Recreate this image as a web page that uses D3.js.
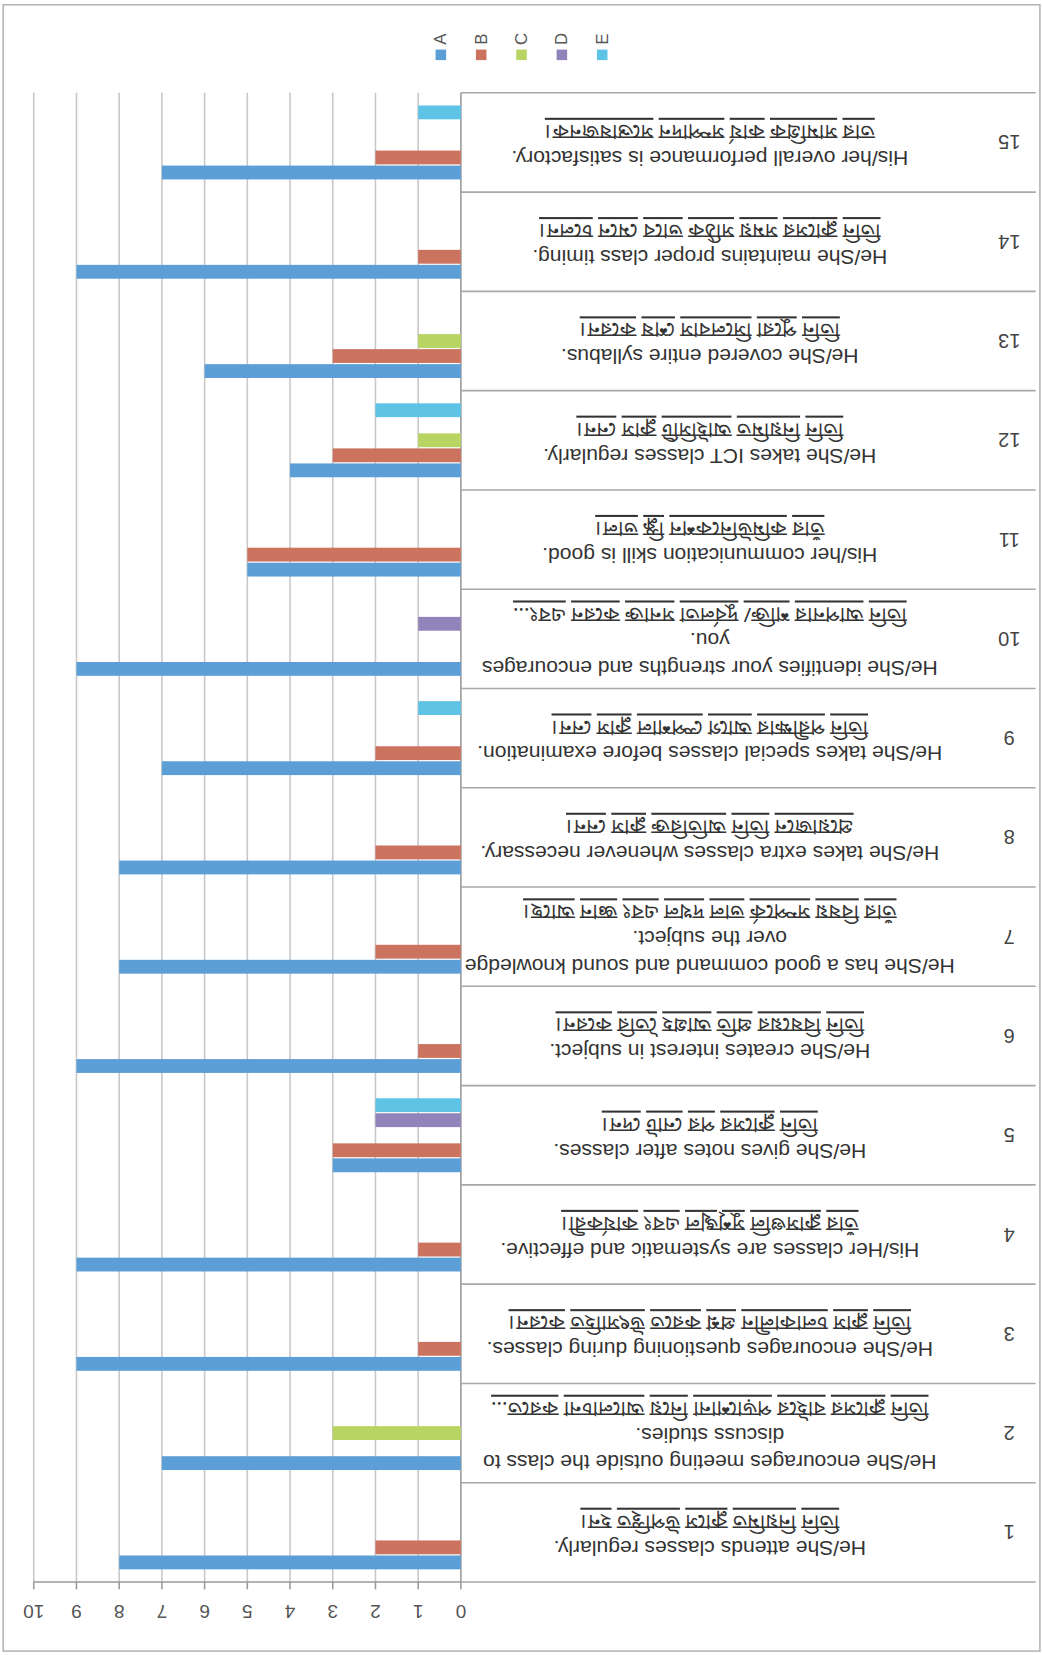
<!DOCTYPE html>
<html>
<head>
<meta charset="utf-8">
<script src="https://cdn.jsdelivr.net/npm/d3@7"></script>
<style>
  body { margin: 0; background: #fff; }
  svg text { font-family: "Liberation Sans", Arial, sans-serif; }
  .bn { font-family: "Noto Sans Bengali", "Noto Sans", "Liberation Sans", sans-serif; }
</style>
</head>
<body>
<div id="chart"></div>
<script>
// データ（スキャン画像は上下逆さま）
const categories = ["1", "2", "3", "4", "5", "6", "7", "8", "9", "10", "11", "12", "13", "14", "15"];
const series = ["A", "B", "C", "D", "E"];
const colors = ["#5b9fd6", "#cc735f", "#b8d463", "#9184ba", "#5fc3e6"];

const valuesA = [8, 7, 9, 9, 3, 9, 8, 8, 7, 9, 5, 4, 6, 9, 7];
const valuesB = [2, 0, 1, 1, 3, 1, 2, 2, 2, 0, 5, 3, 3, 1, 2];
const valuesC = [0, 3, 0, 0, 0, 0, 0, 0, 0, 0, 0, 1, 1, 0, 0];
const valuesD = [0, 0, 0, 0, 2, 0, 0, 0, 0, 1, 0, 0, 0, 0, 0];
const valuesE = [0, 0, 0, 0, 2, 0, 0, 0, 1, 0, 0, 2, 0, 0, 1];

const valueTicks = [0, 1, 2, 3, 4, 5, 6, 7, 8, 9, 10];

const labelsEn = [
  ["He/She attends classes regularly."],
  ["He/She encourages meeting outside the class to", "discuss studies."],
  ["He/She encourages questioning  during classes."],
  ["His/Her classes are systematic and effective."],
  ["He/She gives notes after classes."],
  ["He/She creates interest in subject."],
  ["He/She has a good command and sound knowledge", "over the subject."],
  ["He/She takes extra classes whenever necessary."],
  ["He/She takes special classes before examination."],
  ["He/She identifies your strengths and encourages", "you."],
  ["His/her communication skill is good."],
  ["He/She takes ICT classes regularly."],
  ["He/She covered entire syllabus."],
  ["He/She maintains proper class timing."],
  ["His/her overall performance is satisfactory."]
];

const labelsBn = [
  "তিনি নিয়মিত ক্লাসে উপস্থিত হন।",
  "তিনি ক্লাসের বাইরে পড়াশোনা নিয়ে আলোচনা করতে...",
  "তিনি ক্লাস চলাকালীন প্রশ্ন করতে উৎসাহিত করেন।",
  "তাঁর ক্লাসগুলি সুশৃঙ্খল এবং কার্যকরী।",
  "তিনি ক্লাসের পর নোট দেন।",
  "তিনি বিষয়ের প্রতি আগ্রহ তৈরি করেন।",
  "তাঁর বিষয় সম্পর্কে ভাল দখল এবং জ্ঞান আছে।",
  "প্রয়োজনে তিনি অতিরিক্ত ক্লাস নেন।",
  "তিনি পরীক্ষার আগে স্পেশাল ক্লাস নেন।",
  "তিনি আপনার শক্তি/ দুর্বলতা সনাক্ত করেন এবং...",
  "তাঁর কমিউনিকেশন স্কিল ভাল।",
  "তিনি নিয়মিত আইসিটি ক্লাস নেন।",
  "তিনি পুরো সিলেবাস শেষ করেন।",
  "তিনি ক্লাসের সময় সঠিক ভাবে মেনে চলেন।",
  "তার সামগ্রিক কার্য সম্পাদন সন্তোষজনক।"
];

const allValues = [valuesA, valuesB, valuesC, valuesD, valuesE];

const W = 1042, H = 1655;
const k = 1042 / 988; // スキャンの縮尺
const svg = d3.select("#chart").append("svg").attr("width", W).attr("height", H);
const root = svg.append("g").attr("transform", `scale(${k})`);

// 外枠
root.append("rect").attr("x", 3).attr("y", 4.5).attr("width", 983).attr("height", 1561)
  .attr("fill", "none").attr("stroke", "#b5b5b5").attr("stroke-width", 1.5);

// スケール（図全体が180度回転している）
const x = d3.scaleLinear().domain([0, 10]).range([437, 32]);
const y = d3.scaleBand().domain(categories).range([1500, 88]);
const inner = d3.scaleBand().domain(series).range([y.bandwidth() - 12, 12]).paddingInner(0.08);

// グリッド線
root.append("g").selectAll("line").data(valueTicks.filter((d) => d > 0)).enter().append("line")
  .attr("x1", (d) => x(d)).attr("x2", (d) => x(d))
  .attr("y1", 88).attr("y2", 1500)
  .attr("stroke", "#c8c8c8").attr("stroke-width", 1.5);

// 値の軸（下側）
const axisG = root.append("g").attr("transform", "translate(0,1500)");
axisG.append("line").attr("x1", x(10)).attr("x2", x(0)).attr("stroke", "#9a9a9a").attr("stroke-width", 1.5);
axisG.selectAll(".tick").data(valueTicks).enter().append("line")
  .attr("x1", (d) => x(d)).attr("x2", (d) => x(d)).attr("y1", 0).attr("y2", 7)
  .attr("stroke", "#9a9a9a").attr("stroke-width", 1.5);
axisG.selectAll("text").data(valueTicks).enter().append("text")
  .attr("transform", (d) => `translate(${x(d)},28) rotate(180)`)
  .attr("text-anchor", "middle").attr("dominant-baseline", "central")
  .attr("font-size", 18).attr("fill", "#555").text((d) => d);

// カテゴリ軸と区切り線
root.append("line").attr("x1", x(0)).attr("x2", x(0)).attr("y1", 88).attr("y2", 1500)
  .attr("stroke", "#9a9a9a").attr("stroke-width", 1.5);
const bounds = categories.map((c) => y(c)).concat([y("1") + y.bandwidth()]);
root.append("g").selectAll("line").data(bounds).enter().append("line")
  .attr("x1", x(0)).attr("x2", 982).attr("y1", (d) => d).attr("y2", (d) => d)
  .attr("stroke", "#a8a8a8").attr("stroke-width", 1.5);

// 棒グラフ
const barData = [];
categories.forEach((c, i) => {
  series.forEach((s, j) => {
    if (allValues[j][i] > 0) barData.push({ cat: c, s: s, v: allValues[j][i], color: colors[j] });
  });
});
root.append("g").selectAll("rect").data(barData).enter().append("rect")
  .attr("x", (d) => x(d.v))
  .attr("y", (d) => y(d.cat) + inner(d.s))
  .attr("width", (d) => x(0) - x(d.v))
  .attr("height", inner.bandwidth())
  .attr("fill", (d) => d.color);

// カテゴリラベル
const labG = root.append("g");
categories.forEach((c, i) => {
  const cy = y(c) + y.bandwidth() / 2;
  labG.append("text")
    .attr("transform", `translate(957,${cy}) rotate(180)`)
    .attr("text-anchor", "middle").attr("dominant-baseline", "central")
    .attr("font-size", 19).attr("fill", "#444").text(c);

  const lines = labelsEn[i].map((t) => ({ t: t, bn: false })).concat([{ t: labelsBn[i], bn: true }]);
  const n = lines.length;
  lines.forEach((ln, kk) => {
    const ly = cy + ((n - 1) / 2 - kk) * 26 + 2;
    const t = labG.append("text")
      .attr("transform", `translate(673,${ly}) rotate(180)`)
      .attr("text-anchor", "middle").attr("dominant-baseline", "central")
      .attr("font-size", ln.bn ? 19.5 : 20).attr("fill", "#333");
    if (ln.bn) {
      t.attr("class", "bn");
      ln.t.split(" ").forEach((w, wi) => {
        if (wi > 0) t.append("tspan").text(" ");
        t.append("tspan").attr("text-decoration", "underline").text(w);
      });
    } else {
      t.text(ln.t);
    }
  });
});

// 凡例（文字は90度回転）
const legX = d3.scalePoint().domain(series).range([418, 571]);
const legG = root.append("g");
series.forEach((s, j) => {
  legG.append("rect").attr("x", legX(s) - 5).attr("y", 47).attr("width", 10).attr("height", 10)
    .attr("fill", colors[j]);
  legG.append("text")
    .attr("transform", `translate(${legX(s)},37) rotate(-90)`)
    .attr("text-anchor", "middle").attr("dominant-baseline", "central")
    .attr("font-size", 16).attr("fill", "#555").text(s);
});
</script>
</body>
</html>
